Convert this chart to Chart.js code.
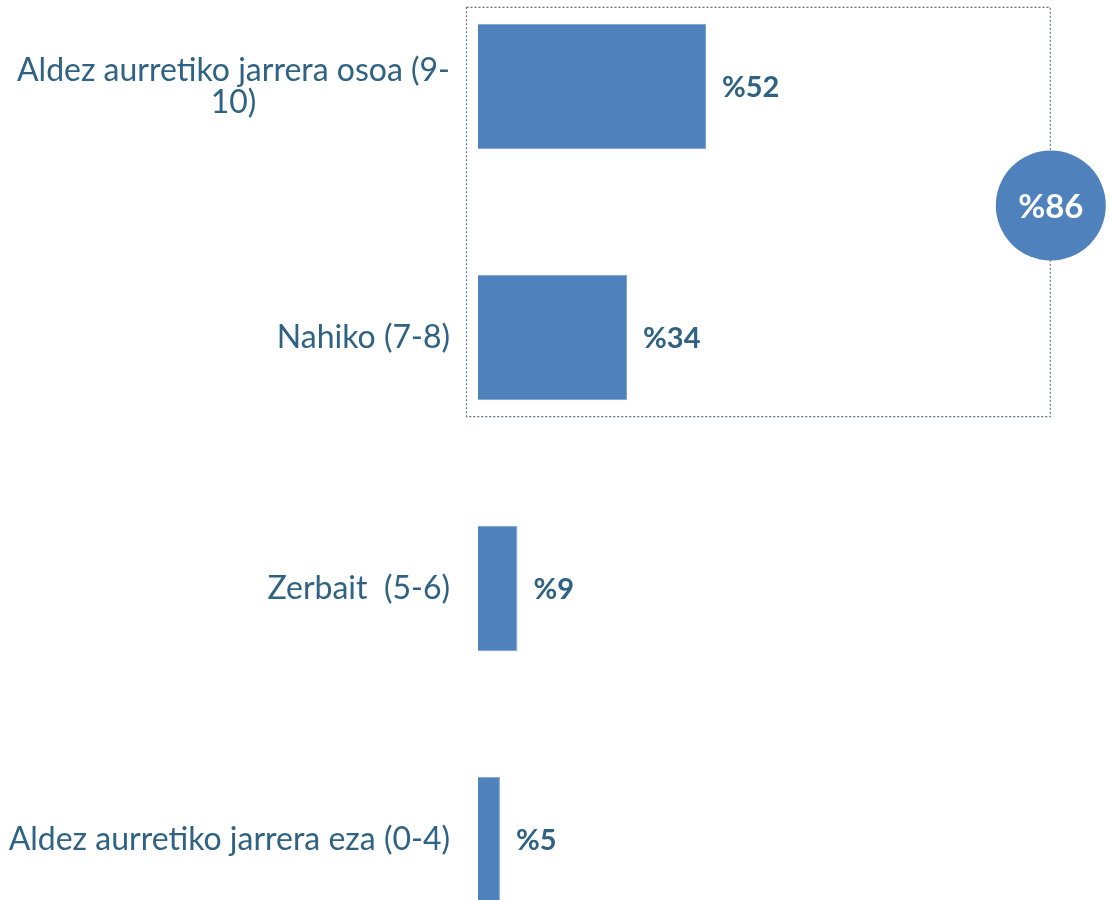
<!DOCTYPE html>
<html>
<head>
<meta charset="utf-8">
<script src="https://cdn.jsdelivr.net/npm/chart.js@4/dist/chart.umd.min.js"></script>
<style>
  html, body { margin: 0; padding: 0; background: #fff; overflow: hidden; }
  #wrap { position: absolute; left: 0; top: -39px; width: 1110px; height: 1004px; }
</style>
</head>
<body>
<div id="wrap"><canvas id="bar-chart"></canvas></div>
<script>
var categories = [
  ['Aldez aurretiko jarrera osoa (9-', '10)'],
  ['Nahiko (7-8)'],
  ['Zerbait  (5-6)'],
  ['Aldez aurretiko jarrera eza (0-4)']
];
var values = [52, 34, 9, 5];
var groupedIdx = [0, 1];   // goian laukian doazen barrak

var barColor = '#4F81BD';
var textColor = '#2F6283';
var labelFont = 'Lato, "DejaVu Sans", sans-serif';

// ardatzeko etiketak eta balioak marrazteko plugina
var extras = {
  id: 'extras',
  afterDatasetsDraw: function (chart) {
    var ctx = chart.ctx;
    var xs = chart.scales.x, ys = chart.scales.y;
    var step = ys.getPixelForValue(1) - ys.getPixelForValue(0);
    ctx.save();

    // kategoria etiketak
    ctx.fillStyle = textColor;
    ctx.font = '32px ' + labelFont;
    ctx.textBaseline = 'middle';
    categories.forEach(function (lines, i) {
      var y = ys.getPixelForValue(i);
      var w = 0;
      lines.forEach(function (l) { w = Math.max(w, ctx.measureText(l).width); });
      var right = xs.left - 28;
      var cx = right - w / 2;
      var lh = 32;
      var y0 = y - (lines.length - 1) * lh / 2;
      ctx.textAlign = 'center';
      lines.forEach(function (l, k) { ctx.fillText(l, cx, y0 + k * lh); });
    });

    // balioak
    ctx.font = 'bold 29px ' + labelFont;
    ctx.textAlign = 'left';
    values.forEach(function (v, i) {
      ctx.fillText('%' + v, xs.getPixelForValue(v) + 16, ys.getPixelForValue(i) + 1);
    });

    // laukia
    var top = ys.getPixelForValue(groupedIdx[0]) - step * 0.317;
    var bottom = ys.getPixelForValue(groupedIdx[groupedIdx.length - 1]) + step * 0.313;
    var left = xs.getPixelForValue(0) - 12;
    var right = xs.getPixelForValue(130.4);
    ctx.strokeStyle = '#5E7389';
    ctx.lineWidth = 1.2;
    ctx.setLineDash([2, 2]);
    ctx.strokeRect(left + 0.5, top + 0.5, right - left, bottom - top);
    ctx.setLineDash([]);

    // zirkulua
    var total = 0;
    groupedIdx.forEach(function (i) { total += values[i]; });
    var cy = (top + bottom) / 2 - 6;
    ctx.beginPath();
    ctx.arc(right + 1, cy, 55, 0, Math.PI * 2);
    ctx.fillStyle = barColor;
    ctx.fill();
    ctx.fillStyle = '#fff';
    ctx.font = 'bold 33px ' + labelFont;
    ctx.textAlign = 'center';
    ctx.fillText('%' + total, right + 1, cy + 2);
    ctx.restore();
  }
};

var myBarChart = new Chart(document.getElementById('bar-chart'), {
  type: 'bar',
  data: {
    labels: categories,
    datasets: [{
      data: values,
      backgroundColor: barColor,
      borderColor: '#7FA1CF',
      borderWidth: 1,
      barPercentage: 0.5,
      categoryPercentage: 1
    }]
  },
  options: {
    indexAxis: 'y',
    responsive: true,
    maintainAspectRatio: false,
    animation: false,
    layout: { padding: { left: 0, right: 193.5, top: 0, bottom: 0 } },
    plugins: { legend: { display: false }, tooltip: { enabled: false } },
    scales: {
      x: { min: 0, max: 100, display: false },
      y: {
        grid: { display: false },
        border: { display: false },
        ticks: { display: false },
        afterFit: function (scale) { scale.width = 478; }
      }
    }
  },
  plugins: [extras]
});
</script>
</body>
</html>
